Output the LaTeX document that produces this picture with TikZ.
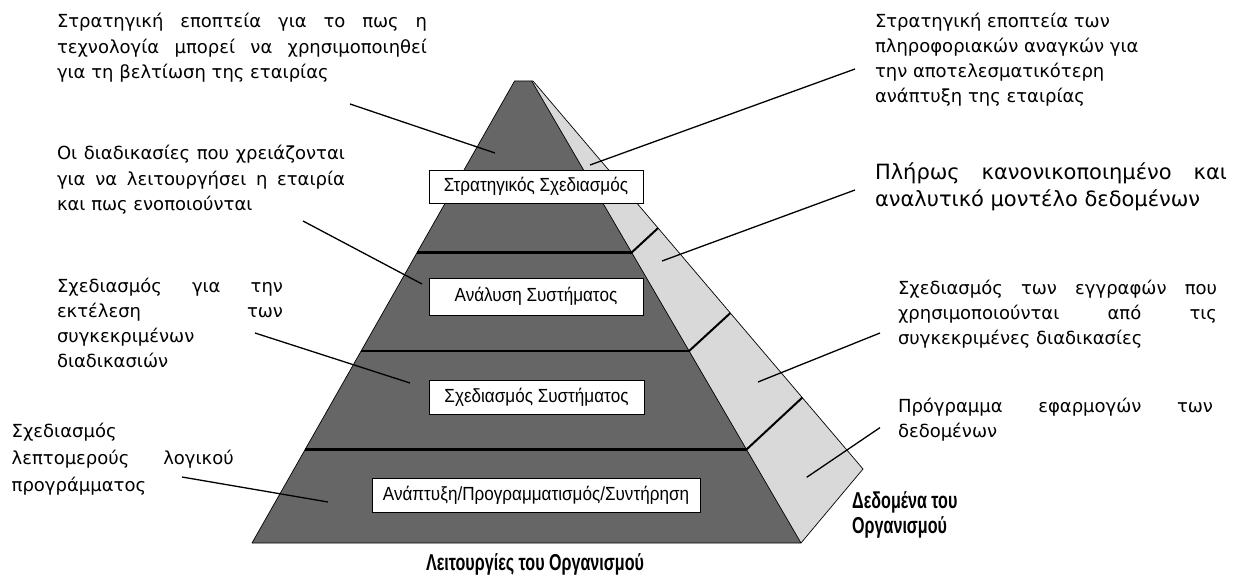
\documentclass[tikz,border=0pt]{standalone}
\usepackage{fontspec}
\setmainfont{DejaVu Sans}
\newfontfamily\boxfont[FakeStretch=0.9]{Liberation Sans}
\newfontfamily\capfont[FakeStretch=0.7]{Liberation Sans Bold}
\usetikzlibrary{calc}

\definecolor{facedark}{RGB}{102,102,102}
\definecolor{facelight}{RGB}{217,217,217}

% a justified line stretched to the full width of its paragraph box
\newcommand{\sline}[1]{\makebox[\linewidth][s]{#1}}
\newcommand{\notesize}{\fontsize{18}{25.5}\selectfont}

\begin{document}
\begin{tikzpicture}[x=1pt,y=-1pt,
  note/.style={anchor=base west, inner sep=0pt, outer sep=0pt},
  levelbox/.style={draw=black, line width=0.9pt, fill=white, inner sep=0pt,
    font=\boxfont\fontsize{19}{22}\selectfont},
  lead/.style={line width=1.3pt},
  tier/.style={line width=2.2pt},
  tick/.style={line width=2pt},
  rim/.style={draw=black, line width=0.7pt, line join=round},
  caption/.style={font=\capfont\fontsize{23}{26}\selectfont, inner sep=0pt}]

\useasboundingbox (0,0) rectangle (1234,575);

% corners of the pyramid
\coordinate (tl) at (514.6,81);
\coordinate (tr) at (531.7,81);
\coordinate (bl) at (252,543);
\coordinate (br) at (801,543);
\coordinate (ot) at (533,81);
\coordinate (oc) at (863,469);

% side face (data) and front face (functions)
\fill[facelight] (tr) -- (ot) -- (oc) -- (br) -- cycle;
\draw[rim] (tr) -- (ot) -- (oc) -- (br);
\fill[facedark] (tl) -- (tr) -- (br) -- (bl) -- cycle;
\draw[rim] (tl) -- (tr) -- (br) -- (bl) -- cycle;

% boundaries between the four levels
\coordinate (l1a) at ($(tl)!0.3712!(bl)$);
\coordinate (l1b) at ($(tr)!0.3712!(br)$);
\coordinate (l2a) at ($(tl)!0.5844!(bl)$);
\coordinate (l2b) at ($(tr)!0.5844!(br)$);
\coordinate (l3a) at ($(tl)!0.7976!(bl)$);
\coordinate (l3b) at ($(tr)!0.7976!(br)$);
\coordinate (s1) at ($(ot)!0.379!(oc)$);
\coordinate (s2) at ($(ot)!0.598!(oc)$);
\coordinate (s3) at ($(ot)!0.816!(oc)$);
\draw[tier] (l1a) -- (l1b);
\draw[tier] (l2a) -- (l2b);
\draw[tier] (l3a) -- (l3b);
\draw[tick] (l1b) -- (s1);
\draw[tick] (l2b) -- (s2);
\draw[tick] (l3b) -- (s3);

% level names
\node[levelbox, minimum width=214pt, minimum height=33pt] (b1) at (536,186.5) {Στρατηγικός Σχεδιασμός};
\node[levelbox, minimum width=214pt, minimum height=37pt] (b2) at (536,296.5) {Ανάλυση Συστήματος};
\node[levelbox, minimum width=215pt, minimum height=34pt] (b3) at (536.5,397) {Σχεδιασμός Συστήματος};
\node[levelbox, minimum width=328pt, minimum height=34pt] (b4) at (536,495) {Ανάπτυξη/Προγραμματισμός/Συντήρηση};

% captions of the two faces
\node[caption, anchor=base] (fcap) at (535,570) {Λειτουργίες του Οργανισμού};
\node[caption, anchor=base west] (dcap) at (852,508)
  {\parbox[t]{150pt}{\raggedright\fontsize{23}{25}\selectfont Δεδομένα του\\Οργανισμού}};

% notes on the left
\node[note] (n1) at (57,27.7) {\parbox[t]{370pt}{\notesize
  \sline{Στρατηγική εποπτεία για το πως η}\\
  \sline{τεχνολογία μπορεί να χρησιμοποιηθεί}\\
  για τη βελτίωση της εταιρίας}};
\node[note] (n2) at (57,160) {\parbox[t]{288pt}{\notesize
  \sline{Οι διαδικασίες που χρειάζονται}\\
  \sline{για να λειτουργήσει η εταιρία}\\
  και πως ενοποιούνται}};
\node[note] (n3) at (57,292.5) {\parbox[t]{226pt}{\fontsize{18}{25}\selectfont
  \sline{Σχεδιασμός για την}\\
  \sline{εκτέλεση των}\\
  συγκεκριμένων\\
  διαδικασιών}};
\node[note] (n4) at (11.7,437.7) {\parbox[t]{222pt}{\fontsize{18}{27}\selectfont
  Σχεδιασμός\\
  \sline{λεπτομερούς λογικού}\\
  προγράμματος}};

% notes on the right
\node[note] (m1) at (875,27.7) {\parbox[t]{340pt}{\fontsize{18}{25}\selectfont
  Στρατηγική εποπτεία των\\
  πληροφοριακών αναγκών για\\
  την αποτελεσματικότερη\\
  ανάπτυξη της εταιρίας}};
\node[note] (m2) at (875,179) {\parbox[t]{352pt}{\fontsize{21}{27}\selectfont
  \sline{Πλήρως κανονικοποιημένο και}\\
  αναλυτικό μοντέλο δεδομένων}};
\node[note] (m3) at (898,294) {\parbox[t]{319pt}{\fontsize{18}{25}\selectfont
  \sline{Σχεδιασμός των εγγραφών που}\\
  \sline{χρησιμοποιούνται από τις}\\
  συγκεκριμένες διαδικασίες}};
\node[note] (m4) at (898,412.7) {\parbox[t]{315pt}{\fontsize{18}{25}\selectfont
  \sline{Πρόγραμμα εφαρμογών των}\\
  δεδομένων}};

% leader lines from the notes into the pyramid
\coordinate (n1s) at (350,104);   \coordinate (n1e) at (495,153);
\coordinate (n2s) at (303,221);   \coordinate (n2e) at (422,284);
\coordinate (n3s) at (255,333);   \coordinate (n3e) at (410,383);
\coordinate (n4s) at (182,477);   \coordinate (n4e) at (328,502);
\coordinate (m1s) at (855,69);    \coordinate (m1e) at (590,165);
\coordinate (m2s) at (855,190);   \coordinate (m2e) at (662,261);
\coordinate (m3s) at (880,333);   \coordinate (m3e) at (758,382);
\coordinate (m4s) at (880,427.6); \coordinate (m4e) at (806.7,477.3);
\draw[lead] (n1s) -- (n1e);
\draw[lead] (n2s) -- (n2e);
\draw[lead] (n3s) -- (n3e);
\draw[lead] (n4s) -- (n4e);
\draw[lead] (m1s) -- (m1e);
\draw[lead] (m2s) -- (m2e);
\draw[lead] (m3s) -- (m3e);
\draw[lead] (m4s) -- (m4e);
\end{tikzpicture}
\end{document}
